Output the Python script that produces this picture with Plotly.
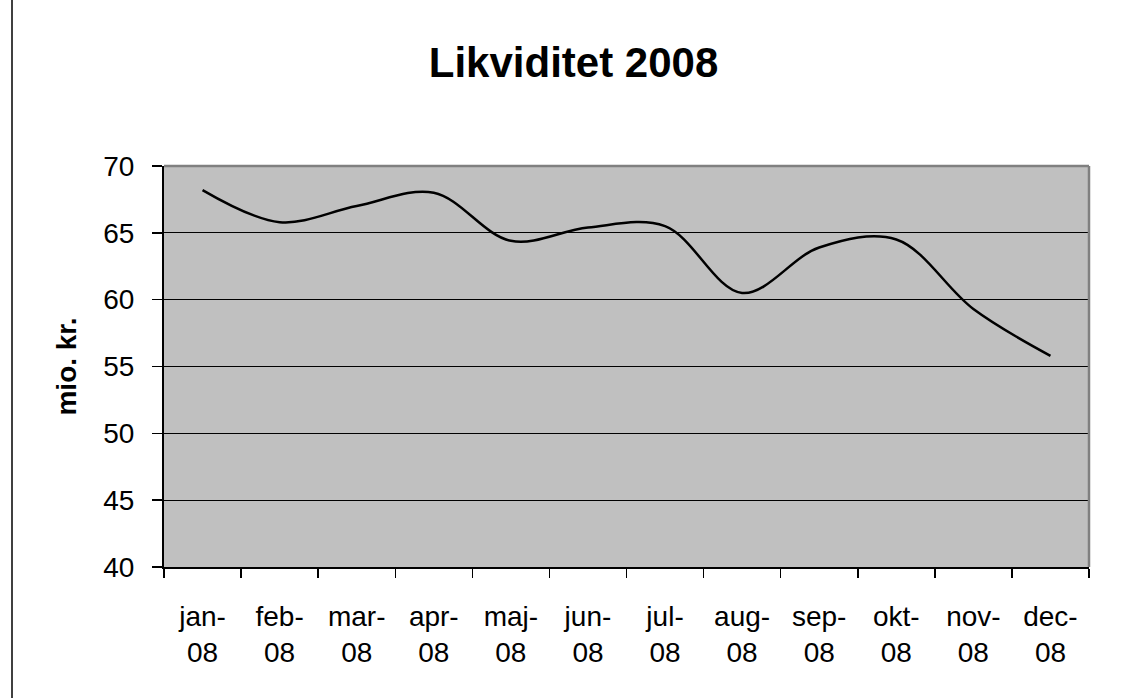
import plotly.graph_objects as go

months = ["jan-<br>08", "feb-<br>08", "mar-<br>08", "apr-<br>08", "maj-<br>08", "jun-<br>08",
          "jul-<br>08", "aug-<br>08", "sep-<br>08", "okt-<br>08", "nov-<br>08", "dec-<br>08"]
likviditet = [68.2, 65.8, 67.0, 68.0, 64.4, 65.4, 65.5, 60.5, 63.9, 64.5, 59.3, 55.8]

title_text = "Likviditet 2008"
y_title = "mio. kr."

fig = go.Figure()
fig.add_trace(go.Scatter(
    x=months, y=likviditet, mode="lines",
    line=dict(color="black", width=2.5, shape="spline", smoothing=1.0),
    showlegend=False, hoverinfo="skip",
))

font_family = "Liberation Sans, Arial, sans-serif"

fig.update_layout(
    width=1147, height=698,
    margin=dict(l=164, r=58, t=166, b=131, autoexpand=False),
    paper_bgcolor="white",
    plot_bgcolor="#C0C0C0",
    hovermode=False,
    title=dict(text="<b>" + title_text + "</b>", x=0.5, xanchor="center",
               y=1 - 62 / 698, yanchor="middle",
               font=dict(family=font_family, size=42, color="black")),
    xaxis=dict(
        type="category", range=[-0.5, len(months) - 0.5],
        tickson="boundaries", ticks="outside", ticklen=9,
        tickwidth=1.5, tickcolor="black",
        showline=True, linecolor="black", linewidth=2,
        showgrid=False, zeroline=False,
        tickfont=dict(family=font_family, size=28, color="black"),
        ticklabelstandoff=23,
    ),
    yaxis=dict(
        range=[40, 70], dtick=5, tick0=40, ticks="outside", ticklen=10,
        tickwidth=1.5, tickcolor="black",
        showline=True, linecolor="black", linewidth=2,
        showgrid=True, gridcolor="black", gridwidth=1, zeroline=False,
        tickfont=dict(family=font_family, size=28, color="black"),
        ticklabelstandoff=12,
        title=dict(text="<b>" + y_title + "</b>", standoff=18,
                   font=dict(family=font_family, size=28, color="black")),
    ),
    shapes=[
        dict(type="line", xref="paper", yref="paper", x0=0, x1=1, y0=1, y1=1,
             line=dict(color="#808080", width=2.5)),
        dict(type="line", xref="paper", yref="paper", x0=1, x1=1, y0=0, y1=1,
             line=dict(color="#808080", width=2.5)),
        dict(type="line", xref="paper", yref="paper",
             x0=(12 - 164) / 925, x1=(12 - 164) / 925, y0=-0.33, y1=1.42,
             line=dict(color="black", width=1.5)),
    ],
)

fig.write_html("out.html",
               config={"displayModeBar": False, "staticPlot": True},
               post_script="document.body.style.margin='0';document.body.style.padding='0';")
